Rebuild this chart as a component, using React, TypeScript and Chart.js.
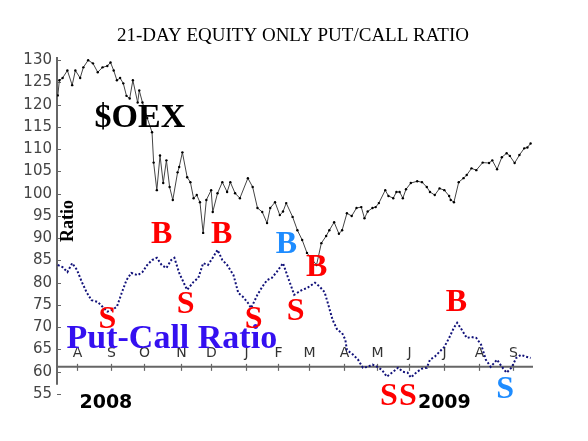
import React, { useEffect, useRef } from "react";
import { Chart, registerables } from "chart.js";

Chart.register(...registerables);

// ---- data (x = trading-day index from mid July 2008) ----
const oexDays = [2,3,5,8,11,13,16,18,21,24,27,30,33,35,37,39,41,43,45,47,49,52,53,55,58,61,62,64,66,68,70,72,74,77,78,80,83,85,87,89,91,93,95,98,99,102,105,108,110,113,116,121,124,127,130,133,135,138,141,143,145,149,152,155,158,161,164,167,170,172,175,178,180,183,186,189,192,194,196,199,201,203,207,209,212,214,216,218,220,223,227,230,233,235,238,241,244,247,248,250,253,256,258,261,264,268,272,274,277,280,283,285,288,291,294,296,298];
const oexValues = [122.1,125.5,126,127.7,124.4,127.7,126,128.4,130,129.3,127.3,128.4,128.7,129.5,127.7,125.5,126,124.8,122,121.4,125.5,120.5,123.2,120.5,117,113.8,107,100.8,108.6,102.4,107.5,101.5,98.6,104.8,106,109.3,103.7,102.6,99,99.7,98.1,91.2,98.6,100.8,95.9,100.1,102.6,100.4,102.6,100.1,99,103.5,101.5,96.8,95.9,93.4,96.8,98.1,95.2,96,97.9,94.8,91.8,89.6,86.7,85.3,84,88.9,90.5,91.8,93.6,91,91.8,95.6,95,96.8,97,94.5,96,96.8,97,97.9,100.8,99.5,99,100.4,100.4,99,101,102.4,102.8,102.6,101.5,100.4,99.7,101.2,100.8,99.5,98.6,98.1,102.6,103.5,104.2,105.7,105.3,107,106.9,107.5,105.5,108.2,109.1,108.5,106.9,108.7,110.2,110.4,111.3];

const ratioDays = [2,5,8,11,14,17,20,23,27,30,33,36,39,42,45,48,52,55,58,61,64,67,70,73,75,78,82,83,87,90,93,96,99,102,105,108,112,115,118,121,123,127,130,133,136,139,143,146,150,155,158,163,166,169,171,174,177,180,182,183,187,190,193,196,199,202,205,208,212,215,218,221,223,227,230,233,235,238,241,244,247,250,252,255,258,261,264,267,270,273,277,280,283,286,289,292,295,298];
const ratioValues = [84,83.5,82.4,84.4,82.9,80.2,77.9,76.1,75.7,74.6,73.5,73.9,74.6,77.7,80.6,82.2,81.7,82.4,84,85.1,85.6,84,83.3,85.1,85.6,82.2,79.1,78.4,80.2,81.1,84.4,84,85.6,87.4,85.1,84,81.7,77.7,76.8,75.5,74.3,77.3,79.1,80.6,81.1,82.4,84.4,81.3,77.3,78.4,78.8,80,79.1,77.9,75.5,71.7,69.4,68.7,67.2,64.9,63.8,62.7,60.9,61.1,61.6,61.1,60.4,58.9,60,60.9,60,59.8,58.7,60,60.7,60.9,62.7,63.4,64.5,65.6,67.6,69.9,71,69.4,67.6,67.8,67.6,66.1,62.7,61.1,62.7,61.1,59.8,60.9,63.1,63.8,63.4,63.1];

const monthDays = [14,35,56,79,98,120,140,159,181,202,222,244,266,287];
const monthLabels = ["A","S","O","N","D","J","F","M","A","M","J","J","A","S"];
const yTicks = [55,60,65,70,75,80,85,90,95,100,105,110,115,120,125,130];

const signalLabels = ["S","B","S","B","S","B","S","B","B","S","S","S"];
const signalColors = ["#ff0000","#ff0000","#ff0000","#ff0000","#ff0000","#1e8cff","#ff0000","#ff0000","#ff0000","#ff0000","#ff0000","#1e8cff"];
const signalDays = [33,67,82,104.6,124.6,145.2,150.9,164,251.5,209.3,221.2,282];
const signalValues = [71.7,90.7,75,90.7,71.7,88.5,73.5,83.3,75.5,54.4,54.4,56];

const titleText = "21-DAY EQUITY ONLY PUT/CALL RATIO";

export default function App() {
  const ref = useRef<HTMLCanvasElement | null>(null);
  useEffect(() => {
    if (!ref.current) return;
    const overlay = {
      id: "overlay",
      beforeDatasetsDraw(chart: any) {
        const { ctx, chartArea, scales } = chart;
        const x = scales.x, y = scales.y;
        ctx.save();
        // y axis line
        ctx.strokeStyle = "#666";
        ctx.lineWidth = 2;
        ctx.beginPath();
        ctx.moveTo(chartArea.left, chartArea.top - 1);
        ctx.lineTo(chartArea.left, y.getPixelForValue(57.1));
        ctx.stroke();
        ctx.lineWidth = 1;
        yTicks.forEach((v) => {
          const py = Math.round(y.getPixelForValue(v)) + 0.5;
          ctx.beginPath();
          ctx.moveTo(chartArea.left, py);
          ctx.lineTo(chartArea.left + 4, py);
          ctx.stroke();
        });
        // x axis line
        const base = y.getPixelForValue(61.1);
        ctx.lineWidth = 2;
        ctx.beginPath();
        ctx.moveTo(chartArea.left, base);
        ctx.lineTo(chartArea.right, base);
        ctx.stroke();
        ctx.lineWidth = 1.2;
        ctx.fillStyle = "#333";
        ctx.font = "14px 'DejaVu Sans'";
        ctx.textAlign = "center";
        ctx.textBaseline = "bottom";
        monthDays.forEach((d, i) => {
          const px = Math.round(x.getPixelForValue(d)) + 0.5;
          ctx.beginPath();
          ctx.moveTo(px, base - 3);
          ctx.lineTo(px, base + 4);
          ctx.stroke();
          ctx.fillText(monthLabels[i], px, base - 6);
        });
        ctx.restore();
      },
      afterDraw(chart: any) {
        const { ctx, scales } = chart;
        const x = scales.x, y = scales.y;
        ctx.save();
        ctx.textAlign = "center";
        ctx.textBaseline = "middle";
        // title
        ctx.fillStyle = "#000";
        ctx.font = "19px 'Liberation Serif'";
        ctx.fillText(titleText, 293, 36);
        // $OEX
        ctx.font = "bold 34px 'Liberation Serif'";
        ctx.fillText("$OEX", x.getPixelForValue(53.4), y.getPixelForValue(117));
        // Put-Call Ratio
        ctx.fillStyle = "#3410f0";
        ctx.fillText("Put-Call Ratio", x.getPixelForValue(73.4), y.getPixelForValue(67.4));
        // Ratio axis label
        ctx.save();
        ctx.fillStyle = "#000";
        ctx.font = "bold 18px 'Liberation Serif'";
        ctx.translate(x.getPixelForValue(8.7), y.getPixelForValue(93.9));
        ctx.rotate(-Math.PI / 2);
        ctx.fillText("Ratio", 0, 0);
        ctx.restore();
        // signals
        ctx.font = "bold 32px 'Liberation Serif'";
        signalLabels.forEach((s, i) => {
          ctx.fillStyle = signalColors[i];
          ctx.fillText(s, x.getPixelForValue(signalDays[i]), y.getPixelForValue(signalValues[i]));
        });
        // years
        ctx.fillStyle = "#000";
        ctx.font = "bold 19px 'DejaVu Sans'";
        ctx.fillText("2008", x.getPixelForValue(32.1), y.getPixelForValue(53));
        ctx.fillText("2009", x.getPixelForValue(244), y.getPixelForValue(53));
        ctx.restore();
      },
    };
    const chart = new Chart(ref.current, {
      type: "line",
      data: {
        datasets: [
          {
            label: "$OEX",
            data: oexDays.map((d, i) => ({ x: d, y: oexValues[i] })),
            borderColor: "#444",
            borderWidth: 1,
            pointRadius: 1.2,
            pointBackgroundColor: "#000",
            pointBorderColor: "#000",
            pointBorderWidth: 0,
            tension: 0,
          },
          {
            label: "Put-Call Ratio",
            data: ratioDays.map((d, i) => ({ x: d, y: ratioValues[i] })),
            borderColor: "#12127a",
            borderWidth: 2,
            borderDash: [2, 2],
            pointRadius: 0,
            tension: 0,
          },
        ],
      },
      options: {
        animation: false,
        responsive: false,
        maintainAspectRatio: false,
        layout: { padding: { left: 0, right: 55, top: 58, bottom: 47 } },
        plugins: { legend: { display: false }, title: { display: false }, tooltip: { enabled: false } },
        scales: {
          x: { type: "linear", min: 1.5, max: 299.5, display: false },
          y: {
            type: "linear",
            min: 55,
            max: 130.5,
            afterFit: (s: any) => { s.width = 57; },
            afterBuildTicks: (s: any) => { s.ticks = yTicks.map((v) => ({ value: v })); },
            grid: { display: false, drawTicks: false },
            border: { display: false },
            ticks: {
              padding: 5,
              color: "#444",
              font: { family: "'DejaVu Sans'", size: 15 },
              callback: (v: any) => String(v),
            },
          },
        },
      },
      plugins: [overlay],
    });
    return () => chart.destroy();
  }, []);
  return (
    <div style={{ position: "fixed", left: 0, top: 0, width: 588, height: 441, background: "#fff" }}>
      <canvas ref={ref} width={588} height={441} style={{ width: 588, height: 441 }} />
    </div>
  );
}
